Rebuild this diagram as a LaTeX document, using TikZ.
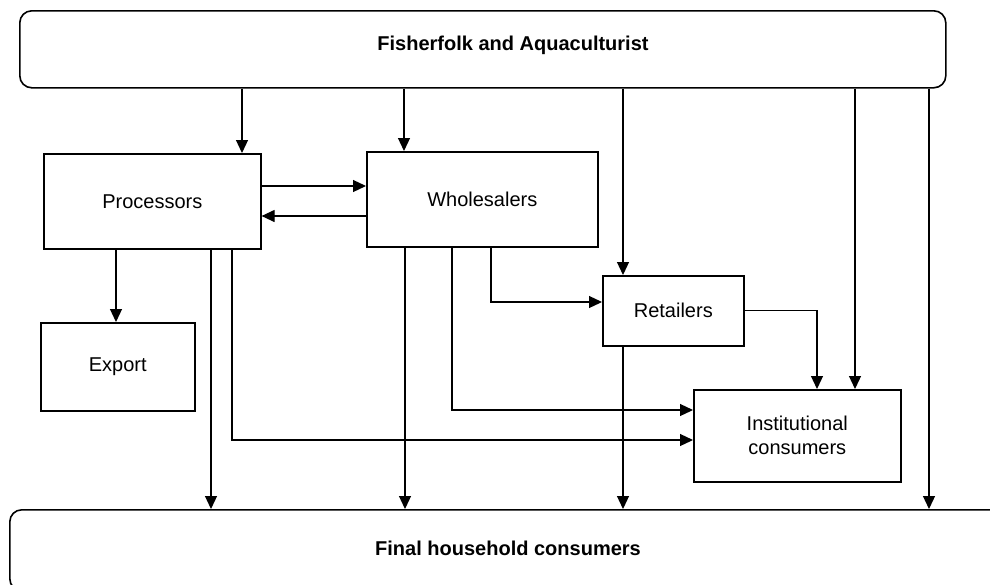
\documentclass[tikz,border=0pt]{standalone}
\usepackage{fontspec}
\setmainfont{Liberation Sans}
\usepackage{tikz}
\usetikzlibrary{arrows.meta}

\begin{document}
\begin{tikzpicture}[x=0.5pt,y=-0.5pt,
    font=\fontsize{10}{12}\selectfont,
    box/.style={draw,line width=0.8pt,inner sep=0pt,anchor=north west},
    roundbox/.style={box,rounded corners=6pt},
    flow/.style={line width=0.6pt,-{Triangle[length=6.5pt,width=6pt]}}]
    \clip (0,0) rectangle (990,584);
    % the two ends of the chain
    \node[roundbox,minimum width=463pt,minimum height=38.5pt] (top) at (19,10) {};
    \node[font=\fontsize{10}{12}\selectfont\bfseries] (toplabel) at (513,45) {Fisherfolk and Aquaculturist};
    \node[roundbox,minimum width=500.5pt,minimum height=40.5pt] (bottom) at (9,509) {};
    \node[font=\fontsize{10}{12}\selectfont\bfseries] (bottomlabel) at (508,548) {Final household consumers};
    % the middle actors
    \node[box,minimum width=108.5pt,minimum height=47.5pt] (proc) at (43,153) {Processors};
    \node[box,minimum width=115.5pt,minimum height=47.5pt] (whole) at (366,151) {Wholesalers};
    \node[box,minimum width=70.5pt,minimum height=35pt] (ret) at (602,275) {Retailers};
    \node[box,minimum width=77pt,minimum height=44pt] (exp) at (40,322) {Export};
    \node[box,minimum width=103.5pt,minimum height=46pt,align=center] (inst) at (693,389) {Institutional\\consumers};
    % from fisherfolk
    \draw[flow] (top.south -| 242,0) -- (proc.north -| 242,0);
    \draw[flow] (top.south -| 404,0) -- (whole.north -| 404,0);
    \draw[flow] (top.south -| 623,0) -- (ret.north -| 623,0);
    \draw[flow] (top.south -| 855,0) -- (inst.north -| 855,0);
    \draw[flow] (top.south -| 929,0) -- (bottom.north -| 929,0);
    % processors and wholesalers
    \draw[flow] (proc.east |- 0,186) -- (whole.west |- 0,186);
    \draw[flow] (whole.west |- 0,216) -- (proc.east |- 0,216);
    \draw[flow] (proc.south -| 116,0) -- (exp.north -| 116,0);
    \draw[flow] (proc.south -| 211,0) -- (bottom.north -| 211,0);
    \draw[flow] (proc.south -| 232,0) |- (inst.west |- 0,440);
    \draw[flow] (whole.south -| 405,0) -- (bottom.north -| 405,0);
    \draw[flow] (whole.south -| 452,0) |- (inst.west |- 0,410);
    \draw[flow] (whole.south -| 491,0) |- (ret.west |- 0,302);
    % retailers
    \draw[flow] (ret.east) -| (inst.north -| 817,0);
    \draw[flow] (ret.south -| 623,0) -- (bottom.north -| 623,0);
\end{tikzpicture}
\end{document}
